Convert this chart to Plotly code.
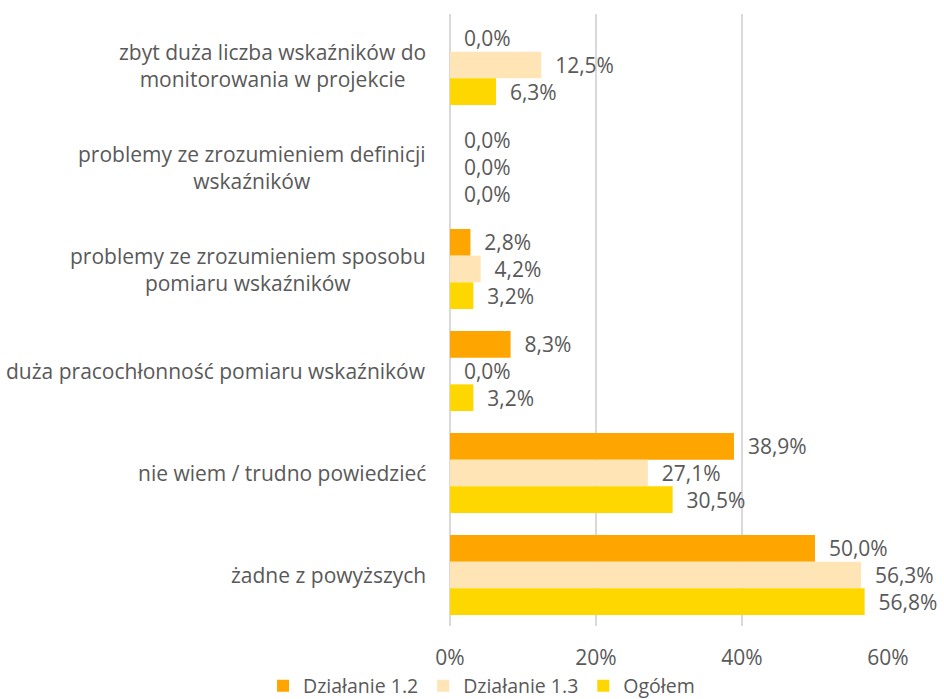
import plotly.graph_objects as go

categories = [
    "zbyt duża liczba wskaźników do<br>monitorowania w projekcie",
    "problemy ze zrozumieniem definicji<br>wskaźników",
    "problemy ze zrozumieniem sposobu<br>pomiaru wskaźników",
    "duża pracochłonność pomiaru wskaźników",
    "nie wiem / trudno powiedzieć",
    "żadne z powyższych",
]
cat_keys = ["c1", "c2", "c3", "c4", "c5", "c6"]
series_names = ["Działanie 1.2", "Działanie 1.3", "Ogółem"]
dz12 = [0.0, 0.0, 2.8, 8.3, 38.9, 50.0]
dz13 = [12.5, 0.0, 4.2, 0.0, 27.1, 56.3]
ogolem = [6.3, 0.0, 3.2, 3.2, 30.5, 56.8]
colors = ["#FFA500", "#FFE4B5", "#FFD700"]
tick_vals = [0, 20, 40, 60]
tick_text = ["0%", "20%", "40%", "60%"]

TXT = "#595959"
FONT = "'Open Sans', Lato, sans-serif"
FS = 21

fig = go.Figure()
for name, vals, col in zip(series_names, [dz12, dz13, ogolem], colors):
    fig.add_trace(go.Bar(
        name=name, y=cat_keys, x=vals, orientation="h",
        marker=dict(color=col, line=dict(width=0)),
        text=vals,
        texttemplate="\u00a0\u00a0%{x:.1f}%",
        textposition="outside", constraintext="none", cliponaxis=False,
        textfont=dict(size=FS, color=TXT, family=FONT),
    ))

for key, lab in zip(cat_keys, categories):
    fig.add_annotation(
        x=-0.05, xref="paper", y=key, yref="y", text=lab,
        showarrow=False, xanchor="right", align="center",
        font=dict(size=FS, color=TXT, family=FONT),
    )

fig.update_layout(
    width=944, height=699,
    margin=dict(l=450, r=56, t=14, b=73, autoexpand=False),
    barmode="group", bargap=0.215, bargroupgap=0,
    separators=",.",
    plot_bgcolor="white", paper_bgcolor="white",
    font=dict(family=FONT, size=FS, color=TXT),
    xaxis=dict(range=[0, 60], tickvals=tick_vals, ticktext=tick_text,
               showgrid=True, gridcolor="#D9D9D9", gridwidth=2,
               zeroline=True, zerolinecolor="#D9D9D9", zerolinewidth=2,
               tickfont=dict(size=FS, color=TXT), ticks="", ticklen=0,
               ticklabelstandoff=17),
    yaxis=dict(autorange="reversed", showticklabels=False, showgrid=False,
               zeroline=False),
    legend=dict(orientation="h", xref="paper", yref="paper",
                x=0.072, xanchor="center", y=-0.098, yanchor="middle",
                font=dict(size=19.5, color=TXT), traceorder="normal",
                itemwidth=30, tracegroupgap=0),
    showlegend=True,
)

fig.write_html("out.html", config={"displayModeBar": False},
               post_script="document.body.style.margin='0';")
